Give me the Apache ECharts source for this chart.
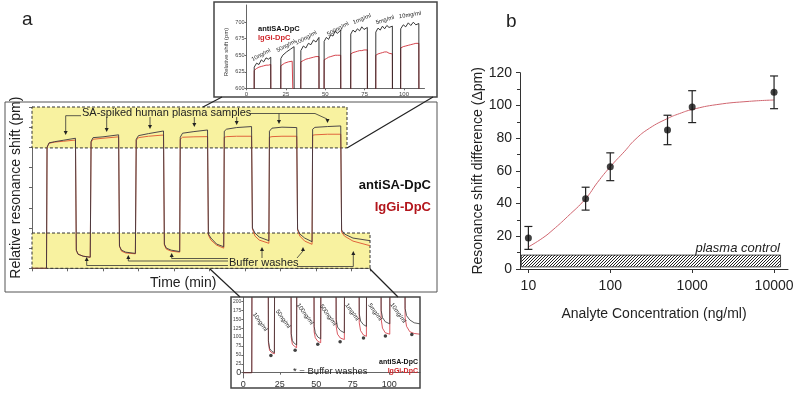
<!DOCTYPE html>
<html>
<head>
<meta charset="utf-8">
<script src="https://cdn.jsdelivr.net/npm/echarts@6/dist/echarts.min.js"></script>
<style>
  html, body { margin: 0; padding: 0; background: #fff; }
  #chart { width: 800px; height: 394px; }
</style>
</head>
<body>
<div id="chart"></div>
<script>
// ---- panel a, main sensorgram (time in min, shift in pm) ----
const mainTime = [0, 5.1, 5.3, 6, 8, 11, 15.3, 15.6, 16.2, 18, 20.5, 20.8, 21.5, 25, 30.5, 30.8, 31.5, 33, 36.4,
  36.7, 37.5, 41, 46.3, 46.6, 47.3, 49, 52, 52.2, 53, 57, 61.8, 62.1, 63, 65, 67.5, 67.7, 68.5, 72, 77.3,
  77.6, 78.5, 80, 83.4, 83.6, 84.5, 88, 93.2, 93.5, 94.3, 96, 98.6, 98.8, 99.6, 104, 108.7, 109, 110, 113, 119]
const mainAnti = [0, 0, 600, 622, 628, 635, 645, 90, 70, 60, 55, 630, 648, 652, 662, 110, 90, 80, 74,
  640, 658, 668, 681, 120, 100, 90, 83, 650, 670, 678, 686, 170, 150, 120, 107, 680, 690, 698, 703,
  200, 175, 155, 137, 680, 695, 700, 698, 195, 170, 150, 132, 690, 699, 703, 706, 190, 170, 150, 137]
const mainIgg = [0, 0, 600, 620, 626, 630, 636, 90, 70, 60, 55, 625, 640, 645, 652, 110, 85, 76, 72,
  635, 648, 655, 661, 115, 95, 85, 80, 640, 650, 652, 653, 165, 140, 115, 100, 650, 653, 655, 655,
  195, 160, 140, 124, 650, 653, 655, 655, 190, 160, 135, 119, 660, 662, 665, 665, 180, 160, 135, 112]

// ---- top inset (zoom on plateaus) ----
const topTime = [4.8, 4.9, 6.4, 7.9, 9.4, 10.9, 12.4, 13.9, 15.4, 15.5,
  21.7, 21.8, 23, 24.2, 25.4, 26.6, 27.8, 29, 30.2, 30.3,
  34.4, 34.5, 36.1, 37.7, 39.3, 40.9, 42.5, 44.1, 46, 46.1,
  49.2, 49.3, 50.7, 52.1, 53.5, 54.9, 56.3, 57.7, 59.8, 59.9,
  66.1, 66.2, 67.6, 69, 70.4, 71.8, 73.2, 74.6, 76.7, 76.8,
  82, 82.1, 83.5, 84.9, 86.3, 87.7, 89.1, 90.5, 92.6, 92.7,
  97.8, 97.9, 99.5, 101.1, 102.7, 104.3, 105.9, 107.5, 109.4, 109.5]
const topAnti = [500, 632, 638, 636, 643, 640, 646, 644, 647, 500,
  500, 645, 650, 648, 655, 652, 659, 657, 663, 500,
  500, 657, 664, 661, 668, 666, 673, 670, 677, 500,
  500, 671, 677, 674, 681, 679, 687, 683, 688, 500,
  500, 682, 688, 685, 690, 687, 693, 689, 692, 500,
  500, 685, 691, 688, 694, 690, 695, 692, 694, 500,
  500, 690, 696, 693, 699, 695, 700, 696, 698, 500]
const topIgg = [500, 627, 630, 632, 633, 634, 635, 635, 636, 500,
  500, 634, 636, 638, 639, 640, 641, 641, 642, 500,
  500, 640, 642, 644, 645, 646, 647, 648, 648, 500,
  500, 643, 645, 647, 648, 649, 650, 650, 650, 500,
  500, 652, 654, 655, 656, 657, 657, 658, 658, 500,
  500, 650, 652, 653, 654, 655, 655, 653, 652, 500,
  500, 661, 663, 664, 665, 666, 667, 668, 668, 500]
const concLabels = ['10ng/ml', '50ng/ml', '100ng/ml', '500ng/ml', '1mg/ml', '5mg/ml', '10mg/ml']

// ---- bottom inset (zoom on buffer washes) ----
const botTime = [0, 5.8, 6, 17, 17.2, 18, 19.5, 21.3, 21.5, 32.6, 32.8, 33.6, 35, 36.5, 36.7, 48.3,
  48.5, 49.3, 51, 53, 53.2, 63.4, 63.6, 64.5, 66.5, 69.2, 69.4, 79.2, 79.4, 80.3, 82.2, 84.3,
  84.5, 94.2, 94.4, 95.3, 97.2, 100.3, 100.5, 110.6, 110.8, 111.8, 114, 117, 121]
const botAnti = [0, 0, 400, 400, 90, 68, 60, 56, 400, 400, 110, 90, 82, 78, 400, 400,
  130, 112, 100, 95, 400, 400, 150, 128, 118, 112, 400, 400, 165, 145, 135, 130,
  400, 400, 175, 155, 143, 137, 400, 400, 180, 160, 148, 140, 137]
const botIgg = [0, 0, 400, 400, 85, 62, 56, 53, 400, 400, 100, 80, 74, 70, 400, 400,
  115, 98, 88, 84, 400, 400, 130, 108, 97, 93, 400, 400, 140, 118, 106, 102,
  400, 400, 150, 125, 112, 108, 400, 400, 155, 130, 115, 110, 108]
const washTime = [18.9, 35.5, 51, 66.3, 82.3, 97.3, 115.4]
const washValue = [48, 63, 80, 87, 97, 103, 107]

// ---- panel b, dose response ----
const conc = [10, 50, 100, 500, 1000, 10000]
const meanShift = [19, 43, 62.5, 85, 99, 108]
const errLow = [12, 36, 54, 76, 89.5, 98]
const errHigh = [26, 50, 71, 94, 109, 118]
const fitConc = [10, 15, 20, 30, 50, 70, 100, 150, 200, 300, 500, 700, 1000, 2000, 5000, 10000]
const fitShift = [13.5, 19, 24, 32, 43, 53, 62.5, 72, 79, 86, 92, 95, 97.5, 100.5, 102.5, 103.3]
const controlLow = 1.3
const controlHigh = 8.5

const zip = (a, b) => a.map((v, i) => [v, b[i]])
const FONT = "'Liberation Sans', Arial, sans-serif"

// hatch pattern for plasma control band
const hatch = document.createElement('canvas')
hatch.width = 3
hatch.height = 3
const hctx = hatch.getContext('2d')
hctx.strokeStyle = '#222'
hctx.lineWidth = 1
hctx.beginPath()
hctx.moveTo(0, 3); hctx.lineTo(3, 0)
hctx.moveTo(-1, 1); hctx.lineTo(1, -1)
hctx.moveTo(2, 4); hctx.lineTo(4, 2)
hctx.stroke()

const chart = echarts.init(document.getElementById('chart'))

const txt = (text, x, y, opt = {}) => ({
  type: 'text', x, y, z: 100, rotation: opt.rotation || 0,
  style: {
    text, fill: opt.color || '#222', textAlign: opt.align || 'left', textVerticalAlign: 'middle',
    font: `${opt.style || 'normal'} ${opt.weight || 'normal'} ${opt.size || 11}px ${FONT}`
  }
})
const seg = (x1, y1, x2, y2, color = '#333', w = 1) => ({
  type: 'line', z: 100, shape: { x1, y1, x2, y2 }, style: { stroke: color, lineWidth: w }
})
const poly = (points) => ({
  type: 'polyline', z: 100, shape: { points }, style: { stroke: '#333', lineWidth: 0.8, fill: null }
})
const head = (x, y, up) => ({
  type: 'polygon', z: 100,
  shape: { points: up ? [[x, y], [x - 2, y + 4], [x + 2, y + 4]] : [[x, y], [x - 2, y - 4], [x + 2, y - 4]] },
  style: { fill: '#222' }
})

const graphics = [
  // frames
  { type: 'rect', z: 90, shape: { x: 5, y: 102, width: 432, height: 190 }, style: { stroke: '#555', fill: 'none', lineWidth: 1 } },
  { type: 'rect', z: 90, shape: { x: 214, y: 2, width: 223, height: 95 }, style: { stroke: '#444', fill: 'none', lineWidth: 1.5 } },
  { type: 'rect', z: 90, shape: { x: 231, y: 297, width: 189, height: 91 }, style: { stroke: '#444', fill: 'none', lineWidth: 1.5 } },
  // connectors
  seg(203, 107, 222, 97, '#222', 1.2),
  seg(347, 148, 433, 97, '#222', 1.2),
  seg(210, 269, 240, 297, '#222', 1.2),
  seg(370, 269, 398, 297, '#222', 1.2),
  // panel letters
  txt('a', 22, 20, { size: 19 }),
  txt('b', 506, 22, { size: 19 }),
  // main panel texts
  txt('Time (min)', 150, 283, { size: 14 }),
  txt('antiSA-DpC', 431, 185, { size: 13, weight: 'bold', align: 'right', color: '#111' }),
  txt('IgGi-DpC', 431, 207, { size: 13, weight: 'bold', align: 'right', color: '#b3161c' }),
  txt('SA-spiked human plasma samples', 82, 112.5, { size: 11 }),
  txt('Buffer washes', 229, 263, { size: 11 }),
  // SA arrows
  poly([[81, 115.7], [65.7, 115.7], [65.7, 131]]), head(65.7, 135, false),
  poly([[106.7, 117], [106.7, 128]]), head(106.7, 132, false),
  poly([[150, 117], [150, 125]]), head(150, 129, false),
  poly([[194.3, 117], [194.3, 123]]), head(194.3, 127, false),
  poly([[236.7, 117], [236.7, 121]]), head(236.7, 125, false),
  poly([[249, 113.5], [279, 113.5], [279, 120]]), head(279, 124, false),
  poly([[279, 113.5], [315, 113.5], [327, 119]]), head(327.5, 123, false),
  // buffer arrows
  poly([[228, 265.5], [86.7, 265.5], [86.7, 261]]), head(86.7, 257, true),
  poly([[228, 261], [128.3, 261], [128.3, 259]]), head(128.3, 255, true),
  poly([[228, 258.5], [171.7, 258.5], [171.7, 257]]), head(171.7, 253, true),
  poly([[262, 258], [262, 251]]), head(262, 247, true),
  poly([[297, 258], [303, 251]]), head(303, 247, true),
  poly([[297, 266.5], [353.3, 266.5], [353.3, 255]]), head(353.3, 251, true),
  // top inset texts
  { type: 'text', x: 226, y: 52, z: 100, rotation: Math.PI / 2,
    style: { text: 'Relative shift (pm)', fill: '#333', textAlign: 'center', textVerticalAlign: 'middle', font: `6px ${FONT}` } },
  txt('antiSA-DpC', 258, 29, { size: 7.5, weight: 'bold', color: '#111' }),
  txt('IgGi-DpC', 258, 37.5, { size: 7.5, weight: 'bold', color: '#d0282c' }),
  txt(concLabels[0], 261, 55, { size: 5.8, align: 'center', rotation: 0.5 }),
  txt(concLabels[1], 286, 46, { size: 5.8, align: 'center', rotation: 0.5 }),
  txt(concLabels[2], 306, 38, { size: 5.8, align: 'center', rotation: 0.5 }),
  txt(concLabels[3], 338, 29, { size: 5.8, align: 'center', rotation: 0.5 }),
  txt(concLabels[4], 362, 19, { size: 5.8, align: 'center', rotation: 0.4 }),
  txt(concLabels[5], 385, 20, { size: 5.8, align: 'center', rotation: 0.3 }),
  txt(concLabels[6], 410, 15, { size: 5.8, align: 'center', rotation: 0.15 }),
  // bottom inset texts
  txt(concLabels[0], 260, 322, { size: 6, align: 'center', rotation: -0.95 }),
  txt(concLabels[1], 283, 319, { size: 6, align: 'center', rotation: -0.95 }),
  txt(concLabels[2], 305, 314, { size: 6, align: 'center', rotation: -0.95 }),
  txt(concLabels[3], 328, 315, { size: 6, align: 'center', rotation: -0.95 }),
  txt(concLabels[4], 352, 312, { size: 6, align: 'center', rotation: -0.95 }),
  txt(concLabels[5], 375, 312, { size: 6, align: 'center', rotation: -0.95 }),
  txt(concLabels[6], 398, 313, { size: 6, align: 'center', rotation: -0.95 }),
  txt('* = Buffer washes', 293, 371, { size: 9.5 }),
  txt('antiSA-DpC', 418, 362, { size: 7, weight: 'bold', align: 'right', color: '#111' }),
  txt('IgGi-DpC', 418, 371, { size: 7, weight: 'bold', align: 'right', color: '#d0282c' }),
  // panel b
  txt('plasma control', 780, 248, { size: 13, style: 'italic', align: 'right', color: '#222' })
]

const smallAxis = (extra) => Object.assign({
  axisLine: { lineStyle: { color: '#666', width: 1 } },
  axisTick: { length: 2, lineStyle: { color: '#666' } },
  splitLine: { show: false }
}, extra)

const option = {
  animation: false,
  textStyle: { fontFamily: FONT },
  grid: [
    { left: 32, top: 107, width: 338, height: 161.3 },
    { left: 246.5, top: 5, width: 178, height: 83.3 },
    { left: 243.3, top: 297.5, width: 176.7, height: 80.5 },
    { left: 520, top: 72.7, width: 268, height: 196.3 }
  ],
  xAxis: [
    smallAxis({ gridIndex: 0, type: 'value', min: 0, max: 119, interval: 12.5,
      axisLabel: { show: false }, axisTick: { length: 3, lineStyle: { color: '#666' } } }),
    smallAxis({ gridIndex: 1, type: 'value', min: 0, max: 113,
      axisTick: { length: 2, customValues: [0, 25, 50, 75, 100], lineStyle: { color: '#666' } },
      axisLabel: { customValues: [0, 25, 50, 75, 100], fontSize: 6, color: '#444', margin: 3 } }),
    smallAxis({ gridIndex: 2, type: 'value', min: 0, max: 121,
      axisTick: { length: 2, customValues: [0, 25, 50, 75, 100], lineStyle: { color: '#666' } },
      axisLabel: { customValues: [0, 25, 50, 75, 100], fontSize: 9, color: '#333', margin: 2 } }),
    { gridIndex: 3, type: 'log', logBase: 10, min: 7.9, max: 14800,
      name: 'Analyte Concentration (ng/ml)', nameLocation: 'middle', nameGap: 38,
      nameTextStyle: { fontSize: 14, color: '#222' },
      axisLine: { lineStyle: { color: '#333' } },
      axisTick: { length: 4, customValues: [10, 100, 1000, 10000], lineStyle: { color: '#333' } },
      axisLabel: { customValues: [10, 100, 1000, 10000], fontSize: 14, color: '#222', margin: 10,
        formatter: v => String(Math.round(v)) },
      splitLine: { show: false }, minorTick: { show: false } }
  ],
  yAxis: [
    smallAxis({ gridIndex: 0, type: 'value', min: 0, max: 800, interval: 100,
      name: 'Relative resonance shift (pm)', nameLocation: 'middle', nameGap: 9,
      nameTextStyle: { fontSize: 14, color: '#222' },
      axisLabel: { show: false }, axisTick: { length: 3, lineStyle: { color: '#666' } } }),
    smallAxis({ gridIndex: 1, type: 'value', min: 600, max: 726,
      axisTick: { length: 2, customValues: [600, 625, 650, 675, 700], lineStyle: { color: '#666' } },
      axisLabel: { customValues: [600, 625, 650, 675, 700], fontSize: 5.5, color: '#444', margin: 2 } }),
    smallAxis({ gridIndex: 2, type: 'value', min: -15, max: 211,
      axisTick: { length: 2, customValues: [0, 25, 50, 75, 100, 125, 150, 175, 200], lineStyle: { color: '#666' } },
      axisLabel: { customValues: [0, 25, 50, 75, 100, 125, 150, 175, 200], margin: 2,
        formatter: v => v === 0 ? '{big|0}' : '{small|' + v + '}',
        rich: { big: { fontSize: 9, color: '#333' }, small: { fontSize: 5, color: '#444' } } } }),
    { gridIndex: 3, type: 'value', min: 0, max: 120, interval: 20,
      name: 'Resonance shift difference (\u0394pm)', nameLocation: 'middle', nameGap: 30,
      nameTextStyle: { fontSize: 14, color: '#222' },
      axisLine: { show: true, lineStyle: { color: '#333' } },
      axisTick: { show: true, length: 4, lineStyle: { color: '#333' } },
      minorTick: { show: true, splitNumber: 2, length: 3, lineStyle: { color: '#333' } },
      axisLabel: { fontSize: 14, color: '#222', margin: 8 },
      splitLine: { show: false } }
  ],
  series: [
    // yellow highlight boxes
    { type: 'line', xAxisIndex: 0, yAxisIndex: 0, data: [], z: 1, silent: true,
      markArea: { silent: true,
        itemStyle: { color: '#f8f2a0', opacity: 1, borderColor: '#333', borderWidth: 1, borderType: [3, 2] },
        data: [
          [{ coord: [0, 800] }, { coord: [110.9, 597] }],
          [{ coord: [0, 175] }, { coord: [119, 0] }]
        ] } },
    { name: 'IgGi-DpC', type: 'line', xAxisIndex: 0, yAxisIndex: 0, data: zip(mainTime, mainIgg),
      showSymbol: false, z: 3, lineStyle: { color: '#e0643c', width: 1 } },
    { name: 'antiSA-DpC', type: 'line', xAxisIndex: 0, yAxisIndex: 0, data: zip(mainTime, mainAnti),
      showSymbol: false, z: 3, lineStyle: { color: '#3a3440', width: 0.9 } },
    { type: 'line', xAxisIndex: 1, yAxisIndex: 1, data: zip(topTime, topIgg),
      showSymbol: false, z: 3, lineStyle: { color: '#d0303a', width: 0.9 } },
    { type: 'line', xAxisIndex: 1, yAxisIndex: 1, data: zip(topTime, topAnti),
      showSymbol: false, z: 3, lineStyle: { color: '#222', width: 0.9 } },
    { type: 'line', xAxisIndex: 2, yAxisIndex: 2, data: zip(botTime, botIgg),
      showSymbol: false, z: 3, lineStyle: { color: '#d0303a', width: 0.8 } },
    { type: 'line', xAxisIndex: 2, yAxisIndex: 2, data: zip(botTime, botAnti),
      showSymbol: false, z: 3, lineStyle: { color: '#333', width: 0.8 } },
    { type: 'scatter', xAxisIndex: 2, yAxisIndex: 2, data: zip(washTime, washValue),
      symbol: 'circle', symbolSize: 3.5, z: 4, itemStyle: { color: '#111' } },
    // panel b
    { type: 'line', xAxisIndex: 3, yAxisIndex: 3, data: [], z: 1, silent: true,
      markArea: { silent: true,
        itemStyle: { color: { image: hatch, repeat: 'repeat' }, opacity: 1, borderColor: '#222', borderWidth: 0.8 },
        data: [[{ coord: [8.2, controlHigh] }, { coord: [12000, controlLow] }]] } },
    { type: 'line', xAxisIndex: 3, yAxisIndex: 3, data: zip(fitConc, fitShift), smooth: true,
      showSymbol: false, z: 2, lineStyle: { color: '#d06670', width: 1 } },
    { type: 'custom', xAxisIndex: 3, yAxisIndex: 3, z: 3,
      data: conc.map((c, i) => [c, errLow[i], errHigh[i]]),
      encode: { x: 0, y: [1, 2] },
      renderItem: (params, api) => {
        const top = api.coord([api.value(0), api.value(2)])
        const bot = api.coord([api.value(0), api.value(1)])
        const w = 4
        const st = { stroke: '#222', lineWidth: 1.2 }
        return { type: 'group', children: [
          { type: 'line', shape: { x1: top[0], y1: top[1], x2: bot[0], y2: bot[1] }, style: st },
          { type: 'line', shape: { x1: top[0] - w, y1: top[1], x2: top[0] + w, y2: top[1] }, style: st },
          { type: 'line', shape: { x1: bot[0] - w, y1: bot[1], x2: bot[0] + w, y2: bot[1] }, style: st }
        ] }
      } },
    { type: 'scatter', xAxisIndex: 3, yAxisIndex: 3, data: zip(conc, meanShift),
      symbol: 'circle', symbolSize: 7, z: 4, itemStyle: { color: '#111' } }
  ],
  graphic: graphics
}

chart.setOption(option)
</script>
</body>
</html>
